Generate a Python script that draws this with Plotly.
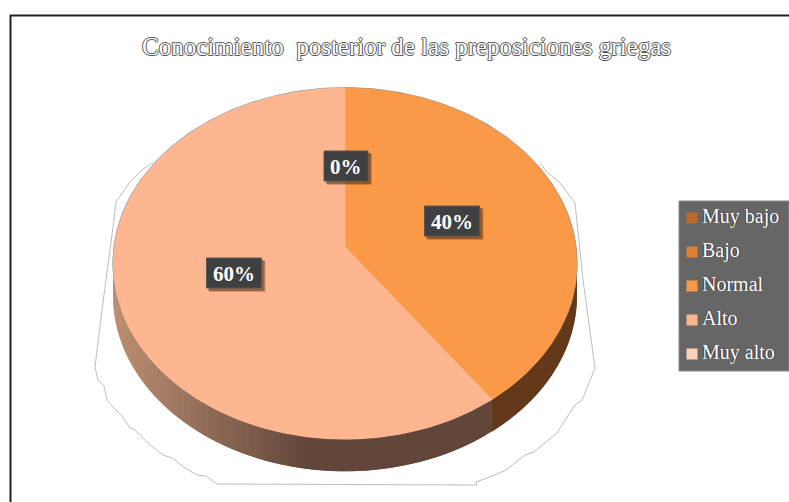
import numpy as np
import plotly.graph_objects as go

TITLE = 'Conocimiento  posterior de las preposiciones griegas'
categories = ['Muy bajo', 'Bajo', 'Normal', 'Alto', 'Muy alto']
shares = [0, 0, 40, 60, 0]
slice_colors = ['#B96B2D', '#DE7F33', '#FA9A48', '#FDB690', '#FCD0B6']
wall_colors = ['#5A3010', '#5A3010', '#63391A', '#614639', '#6E5A50']
pct_labels = ['0%', '40%', '60%']
pct_x = [346, 452, 234]
pct_y = [166, 221, 273]

# pie drawn in pixel coordinates, tilted with a small perspective
CX, CY = 345, 247
RX, RY, PERSP = 231, 151, 0.094
DEPTH = 32
OUTLINE = '1px 0 #555,-1px 0 #555,0 1px #555,0 -1px #555'


def rim(theta):
    u, v = np.sin(theta), np.cos(theta)
    w = 1 + PERSP * v
    return CX + RX * u / w, (CY - RY * v) / w


def hex_rgb(c):
    return np.array([int(c[i:i + 2], 16) for i in (1, 3, 5)], dtype=float)


def wall_color(x, dark):
    # side of the pie gets lighter towards the left edge
    t = np.clip((310 - x) / 197, 0, 1)
    rgb = hex_rgb(dark) * (1 - t) + hex_rgb('#BD9074') * t
    return 'rgb(%d,%d,%d)' % tuple(rgb)


fig = go.Figure()

edges = np.cumsum([0] + shares) / sum(shares) * 2 * np.pi

# side wall first, the top covers whatever is behind it
for i, cat in enumerate(categories):
    if shares[i] == 0:
        continue
    angles = np.linspace(edges[i], edges[i + 1], max(2, shares[i] * 2))
    step = angles[1] - angles[0]
    for a0 in angles[:-1]:
        if np.cos(a0 + step / 2) > 0.25:
            continue
        # each strip runs over the next one so no seams show
        ts = np.linspace(a0, min(a0 + step * 2, edges[i + 1]), 5)
        xs, ys = rim(ts)
        fig.add_trace(go.Scatter(
            x=np.r_[xs, xs[::-1]],
            y=np.r_[ys, ys[::-1] + DEPTH],
            mode='lines', fill='toself',
            fillcolor=wall_color(xs[:3].mean(), wall_colors[i]),
            line=dict(width=0),
            hoverinfo='skip', showlegend=False
        ))

# back rim has a thin blue edge
back = np.linspace(-np.pi * 0.62, np.pi * 0.62, 200)
bx, by = rim(back)
fig.add_trace(go.Scatter(x=bx, y=by, mode='lines', line=dict(color='#5f93b5', width=1.2),
                         hoverinfo='skip', showlegend=False))

# top of the pie
for i, cat in enumerate(categories):
    if shares[i] == 0:
        continue
    xs, ys = rim(np.linspace(edges[i], edges[i + 1], 200))
    fig.add_trace(go.Scatter(
        x=np.r_[CX, xs, CX],
        y=np.r_[CY, ys, CY],
        mode='lines', fill='toself', fillcolor=slice_colors[i],
        line=dict(color=slice_colors[i], width=0.5),
        name=cat, showlegend=False
    ))

# legend panel
legend_y = [218 + 34 * i for i in range(len(categories))]
fig.add_trace(go.Scatter(
    x=[692] * len(categories), y=legend_y,
    mode='markers',
    marker=dict(symbol='square', size=11, color=slice_colors),
    hoverinfo='skip', showlegend=False
))
fig.add_trace(go.Scatter(
    x=[702] * len(categories), y=legend_y,
    mode='text',
    text=categories,
    textposition='middle right',
    textfont=dict(family='Liberation Serif', size=20, color='white',
                  shadow='1px 0 #444,-1px 0 #444'),
    hoverinfo='skip', showlegend=False
))

fig.add_shape(type='rect', x0=679, x1=789, y0=201, y1=371, fillcolor='#666666',
              line=dict(color='#8a8a8a', width=1), layer='below')

# chart frame
fig.add_shape(type='path', path='M 10.5 502 L 10.5 15.5 L 789 15.5',
              line=dict(color='#222222', width=2), layer='below')

# stray grey contour around the pie
contour = [(153, 162), (142, 170), (130, 182), (116, 202), (113, 227), (102, 310), (95, 367),
           (98, 380), (104, 386), (107, 400), (113, 407), (122, 416), (130, 428), (135, 430),
           (150, 445), (163, 455), (172, 458), (185, 468), (197, 475), (206, 476), (217, 484),
           (477, 485), (476, 482), (490, 477), (506, 470), (525, 455), (534, 452), (557, 433),
           (562, 425), (575, 405), (582, 400), (587, 388), (595, 368), (583, 280), (575, 203),
           (560, 183), (547, 172), (540, 163)]
fig.add_shape(type='path', path='M ' + ' L '.join('%d %d' % p for p in contour),
              line=dict(color='#bdbdbd', width=1), layer='below')

# percentage labels
for label, x, y in zip(pct_labels, pct_x, pct_y):
    half = 22 if len(label) == 2 else 27.5
    fig.add_shape(type='rect', x0=x - half + 3, x1=x + half + 4, y0=y - 15 + 3, y1=y + 15 + 4,
                  fillcolor='rgba(90,50,20,0.25)', line=dict(width=0))
    fig.add_shape(type='rect', x0=x - half + 2, x1=x + half + 3, y0=y - 15 + 2, y1=y + 15 + 3,
                  fillcolor='rgba(70,40,20,0.45)', line=dict(width=0))
    fig.add_shape(type='rect', x0=x - half, x1=x + half, y0=y - 15, y1=y + 15,
                  fillcolor='#3F4041', line=dict(color='#555555', width=1))
    fig.add_annotation(x=x, y=y + 1, text='<b>%s</b>' % label, showarrow=False,
                       font=dict(family='Liberation Serif', size=21, color='white'))

fig.add_annotation(x=406, y=46, text=TITLE, showarrow=False,
                   font=dict(family='Liberation Serif', size=25, color='white', shadow=OUTLINE))

fig.update_xaxes(range=[0, 789], visible=False)
fig.update_yaxes(range=[502, 0], visible=False)
fig.update_layout(
    width=789, height=502,
    margin=dict(l=0, r=0, t=0, b=0),
    paper_bgcolor='white', plot_bgcolor='white',
    showlegend=False
)

fig.write_html("out.html", config={'displayModeBar': False},
               post_script="document.body.style.margin='0';")
